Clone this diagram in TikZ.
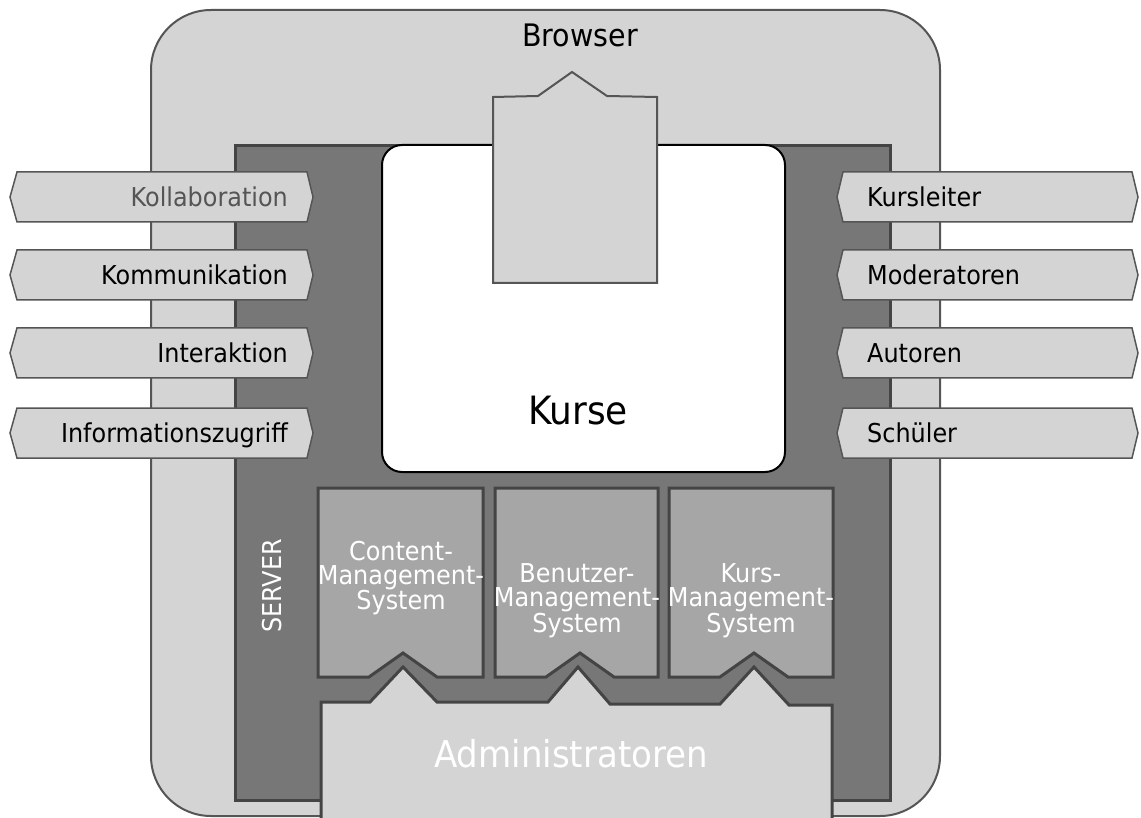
\documentclass[tikz,border=0pt]{standalone}
\usepackage{fontspec}
\setmainfont{DejaVu Sans}[FakeStretch=0.92]
\usetikzlibrary{positioning}
\definecolor{browsergray}{HTML}{D4D4D4}
\definecolor{servergray}{HTML}{777777}
\definecolor{modulegray}{HTML}{A6A6A6}
\definecolor{edgegray}{HTML}{555555}
\definecolor{darkedge}{HTML}{444444}

\tikzset{
  browserbox/.style={fill=browsergray, draw=edgegray, line width=2pt, rounded corners=60pt},
  serverbox/.style={fill=servergray, draw=darkedge, line width=3pt},
  kursebox/.style={fill=white, draw=black, line width=2pt, rounded corners=20pt},
  tabbox/.style={fill=browsergray, draw=edgegray, line width=2pt},
  modulebox/.style={fill=modulegray, draw=darkedge, line width=3pt},
  adminbox/.style={fill=browsergray, draw=darkedge, line width=3pt},
  tag/.style={fill=browsergray, draw=edgegray, line width=1.5pt},
  lbl/.style={font=\fontsize{26}{26}\selectfont, inner sep=0pt, text height=19pt, text depth=0pt},
  wlbl/.style={text=white, align=center, inner sep=0pt, font=\fontsize{26}{24}\selectfont}
}

\begin{document}
\begin{tikzpicture}[x=1pt, y=-1pt]
  \useasboundingbox (0,0) rectangle (1141,818);
  \clip (0,0) rectangle (1141,818);

  % browser and server
  \draw[browserbox] (151,10) rectangle (940,816);
  \node[lbl, font=\fontsize{31}{31}\selectfont, text height=22pt] (browser) at (580,36) {Browser};
  \draw[serverbox] (235,146) rectangle (890,800);
  \node[lbl, text=white, rotate=90] (server) at (272,586) {SERVER};

  % courses
  \draw[kursebox] (382,145) rectangle (785,472);
  \draw[tabbox] (493,283) -- (493,97) -- (538,96) -- (572,72) -- (607,96) -- (657,97) -- (657,283) -- cycle;
  \node[lbl, font=\fontsize{39}{39}\selectfont, text height=28pt] (kurse) at (578,410) {Kurse};

  % management systems
  \foreach \l/\r/\c in {318/483/403, 495/658/580, 669/833/754}
    \draw[modulebox] (\l,488) -- (\r,488) -- (\r,677) -- (\c+34,677) -- (\c,653) -- (\c-34,677) -- (\l,677) -- cycle;
  \node[wlbl] (cms) at (401,578) {Content-\\Management-\\System};
  \node[wlbl] (bms) at (577,601) {Benutzer-\\Management-\\System};
  \node[wlbl] (kms) at (751,601) {Kurs-\\Management-\\System};

  % administrators
  \draw[adminbox] (321,702) -- (370,702) -- (403,667) -- (437,702) -- (548,702) -- (578,667) -- (610,704) -- (720,704) -- (754,667) -- (789,705) -- (832,705)
    -- (832,830) -- (321,830) -- cycle;
  \node[lbl, text=white, font=\fontsize{37}{37}\selectfont, text height=27pt] (admin) at (571,754) {Administratoren};

  % left tags
  \foreach \y/\name/\txt/\col in {197/koll/Kollaboration/edgegray, 275/komm/Kommunikation/black,
      353/inter/Interaktion/black, 433/info/Informationszugriff/black} {
    \draw[tag] (10,\y) -- (17,\y-25) -- (307,\y-25) -- (313,\y) -- (307,\y+25) -- (17,\y+25) -- cycle;
    \node[lbl, anchor=east, text=\col] (\name) at (288,\y) {\txt};
  }

  % right tags
  \foreach \y/\name/\txt in {197/leiter/Kursleiter, 275/mod/Moderatoren, 353/aut/Autoren, 433/sch/Schüler} {
    \draw[tag] (837,\y) -- (843,\y-25) -- (1132,\y-25) -- (1138,\y) -- (1132,\y+25) -- (843,\y+25) -- cycle;
    \node[lbl, anchor=west] (\name) at (867,\y) {\txt};
  }
\end{tikzpicture}
\end{document}
